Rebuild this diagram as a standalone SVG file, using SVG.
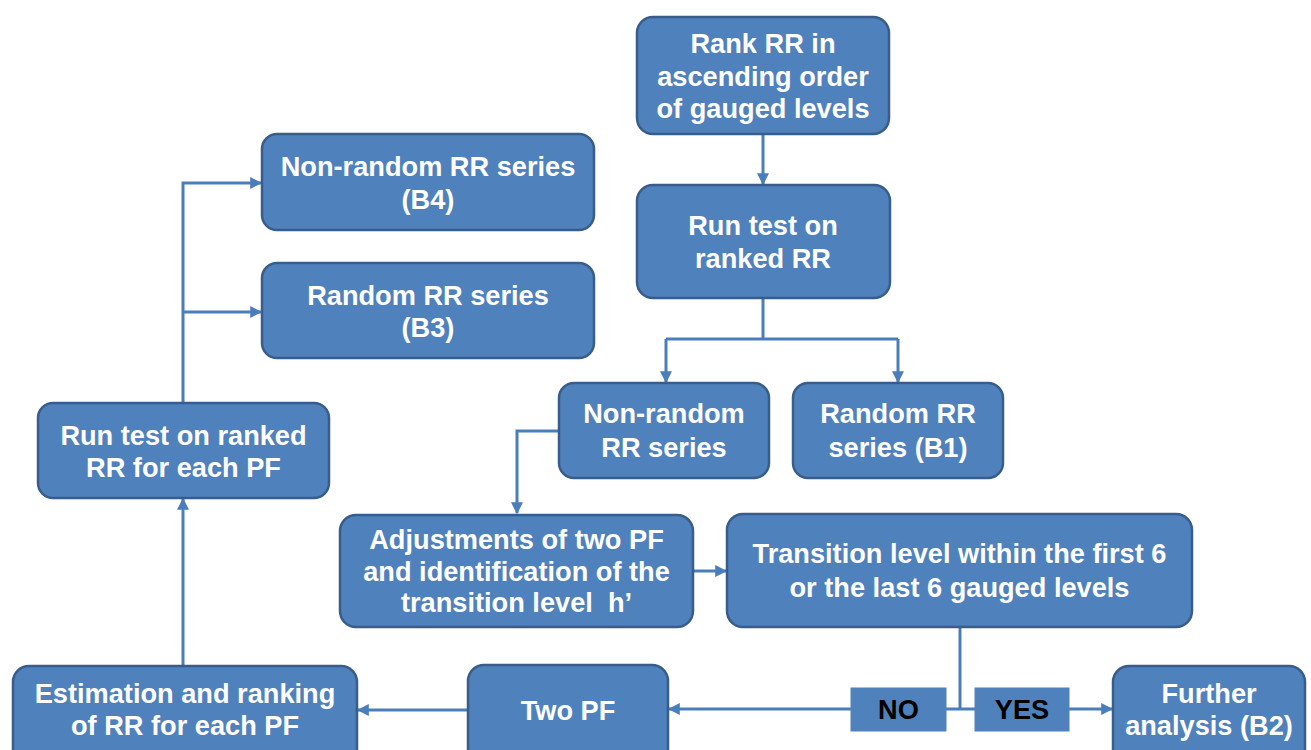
<svg xmlns="http://www.w3.org/2000/svg" width="1311" height="750" viewBox="0 0 1311 750">
<defs>
<style>
.box{fill:#4F81BD;stroke:#385D8A;stroke-width:2.5}
.sq{fill:#4F81BD;stroke:#4F81BD;stroke-width:1}
.t{font-family:"Liberation Sans",Arial,sans-serif;font-weight:bold;font-size:27.2px;fill:#FFFFFF;text-anchor:middle}
.k{font-family:"Liberation Sans",Arial,sans-serif;font-weight:bold;font-size:27.2px;fill:#000000;text-anchor:middle}
.c{fill:none;stroke:#4A7EBB;stroke-width:3}
</style>
<marker id="ah" viewBox="0 0 10 10" refX="9" refY="5" markerWidth="12" markerHeight="12" markerUnits="userSpaceOnUse" orient="auto">
<path d="M0,0 L10,5 L0,10 z" fill="#4A7EBB"/>
</marker>
</defs>
<rect width="1311" height="750" fill="#FFFFFF"/>

<g id="connectors">
<path class="c" d="M763,134 V184" marker-end="url(#ah)"/>
<path class="c" d="M763,298 V339"/>
<path class="c" d="M666,339 H898"/>
<path class="c" d="M666,339 V382" marker-end="url(#ah)"/>
<path class="c" d="M898,339 V382" marker-end="url(#ah)"/>
<path class="c" d="M559,431 H517 V513" marker-end="url(#ah)"/>
<path class="c" d="M693,571 H726" marker-end="url(#ah)"/>
<path class="c" d="M960,627 V709"/>
<path class="c" d="M946,709 H975"/>
<path class="c" d="M1069,709 H1112" marker-end="url(#ah)"/>
<path class="c" d="M851,709 H669" marker-end="url(#ah)"/>
<path class="c" d="M468,710 H358" marker-end="url(#ah)"/>
<path class="c" d="M183,666 V499" marker-end="url(#ah)"/>
<path class="c" d="M183,403 V183 H261" marker-end="url(#ah)"/>
<path class="c" d="M183,312 H261" marker-end="url(#ah)"/>
</g>

<g id="n-rank">
<rect class="box" x="637" y="17" width="252" height="117" rx="16"/>
<text class="t" x="763" y="53">Rank RR in</text>
<text class="t" x="763" y="86">ascending order</text>
<text class="t" x="763" y="118">of gauged levels</text>
</g>

<g id="n-runtest">
<rect class="box" x="637" y="185" width="253" height="113" rx="16"/>
<text class="t" x="763" y="235">Run test on</text>
<text class="t" x="763" y="268">ranked RR</text>
</g>

<g id="n-nonrandom">
<rect class="box" x="559" y="383" width="210" height="95" rx="15"/>
<text class="t" x="664" y="423">Non-random</text>
<text class="t" x="664" y="457">RR series</text>
</g>

<g id="n-b1">
<rect class="box" x="793" y="383" width="210" height="95" rx="15"/>
<text class="t" x="898" y="423">Random RR</text>
<text class="t" x="898" y="457">series (B1)</text>
</g>

<g id="n-b4">
<rect class="box" x="262" y="134" width="332" height="96" rx="15"/>
<text class="t" x="428" y="176">Non-random RR series</text>
<text class="t" x="428" y="209">(B4)</text>
</g>

<g id="n-b3">
<rect class="box" x="262" y="263" width="332" height="95" rx="15"/>
<text class="t" x="428" y="305">Random RR series</text>
<text class="t" x="428" y="337">(B3)</text>
</g>

<g id="n-runpf">
<rect class="box" x="38" y="403" width="291" height="95" rx="15"/>
<text class="t" x="183.5" y="445">Run test on ranked</text>
<text class="t" x="183.5" y="477">RR for each PF</text>
</g>

<g id="n-adjust">
<rect class="box" x="340" y="515" width="353" height="112" rx="16"/>
<text class="t" x="516.5" y="549">Adjustments of two PF</text>
<text class="t" x="516.5" y="581">and identification of the</text>
<text class="t" x="516.5" y="612">transition level&#160; h’</text>
</g>

<g id="n-transition">
<rect class="box" x="727" y="514" width="465" height="113" rx="16"/>
<text class="t" x="959.5" y="563">Transition level within the first 6</text>
<text class="t" x="959.5" y="597">or the last 6 gauged levels</text>
</g>

<g id="n-estimation">
<rect class="box" x="13" y="666" width="344" height="100" rx="16"/>
<text class="t" x="185" y="703">Estimation and ranking</text>
<text class="t" x="185" y="735">of RR for each PF</text>
</g>

<g id="n-twopf">
<rect class="box" x="468" y="665" width="200" height="100" rx="16"/>
<text class="t" x="568" y="720">Two PF</text>
</g>

<g id="n-further">
<rect class="box" x="1113" y="666" width="192" height="100" rx="16"/>
<text class="t" x="1209" y="703">Further</text>
<text class="t" x="1209" y="735">analysis (B2)</text>
</g>

<g id="n-no">
<rect class="sq" x="851" y="688" width="95" height="43"/>
<text class="k" x="898.5" y="719">NO</text>
</g>

<g id="n-yes">
<rect class="sq" x="975" y="688" width="94" height="43"/>
<text class="k" x="1022" y="719">YES</text>
</g>
</svg>
